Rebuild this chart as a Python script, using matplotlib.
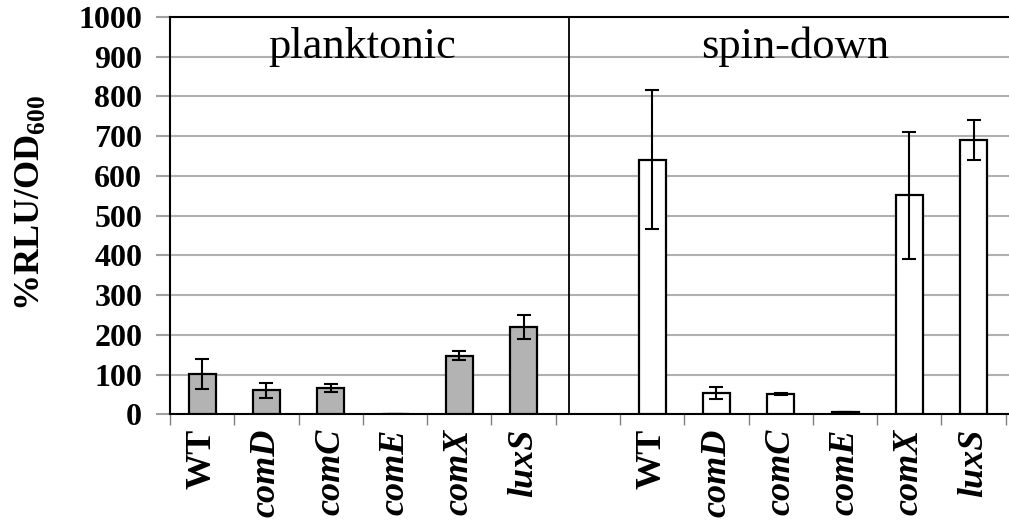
#! /usr/bin/env python

# Luminescence of reporter strains, planktonic vs spin-down cultures

import matplotlib
matplotlib.use('Agg')
import matplotlib.pyplot as plt
import numpy as np

# Data
strains = ['WT', 'comD', 'comC', 'comE', 'comX', 'luxS']

planktonic = [102, 61, 66, 0, 148, 220]
planktonic_err = [38, 19, 10, 0, 12, 30]

spin_down = [641, 53, 51, 6, 551, 690]
spin_down_err = [175, 15, 2, 0, 160, 51]

y_ticks = [0, 100, 200, 300, 400, 500, 600, 700, 800, 900, 1000]

# Fonts
plt.rcParams['font.family'] = ['Liberation Serif', 'DejaVu Serif']
plt.rcParams['mathtext.fontset'] = 'custom'
plt.rcParams['mathtext.rm'] = 'Liberation Serif'
plt.rcParams['mathtext.bf'] = 'Liberation Serif:bold'

fig = plt.figure(figsize=(10.09, 5.24), dpi=100)
ax = fig.add_axes([0.1685, 0.209, 0.8315, 0.759])

# positions: 6 planktonic slots, one empty slot, 6 spin-down slots
x_plank = np.arange(len(strains))
x_spin = np.arange(len(strains)) + len(strains) + 1
bar_w = 0.42

ax.bar(x_plank, planktonic, width=bar_w, color='#b3b3b3', edgecolor='black',
       linewidth=1.6, zorder=3)
ax.errorbar(x_plank, planktonic, yerr=planktonic_err, fmt='none', ecolor='black',
            elinewidth=1.5, capsize=5, capthick=1.5, zorder=4)

ax.bar(x_spin, spin_down, width=bar_w, color='white', edgecolor='black',
       linewidth=1.6, zorder=3)
ax.errorbar(x_spin, spin_down, yerr=spin_down_err, fmt='none', ecolor='black',
            elinewidth=1.5, capsize=5, capthick=1.5, zorder=4)

# divider between the two groups
ax.axvline(5.7, color='black', linewidth=1.3, zorder=2)

ax.set_xlim(-0.5, 12.55)
ax.set_ylim(0, 1000)

# gridlines
ax.set_yticks(y_ticks)
ax.yaxis.grid(True, color='#b0b0b0', linewidth=1.5, zorder=0)
ax.set_axisbelow(True)
ax.tick_params(axis='y', length=10, width=1.5, color='#a0a0a0', pad=10)
for lab in ax.get_yticklabels():
    lab.set_fontweight('bold')
    lab.set_fontsize(23)

# category labels at centres, tick marks at slot boundaries
centers = list(x_plank) + list(x_spin)
labels = strains + strains
ax.set_xticks(centers)
ax.set_xticklabels(labels, rotation=90, fontsize=26, fontweight='bold', va='top')
for lab in ax.get_xticklabels():
    if lab.get_text() != 'WT':
        lab.set_fontstyle('italic')
ax.tick_params(axis='x', which='major', length=0, pad=10)
ax.set_xticks(np.arange(-0.5, 13.0, 1.0), minor=True)
ax.tick_params(axis='x', which='minor', length=8, width=1, color='#808080')

for side in ['left', 'bottom', 'top']:
    ax.spines[side].set_linewidth(1.5)
    ax.spines[side].set_color('black')
ax.spines['right'].set_visible(False)

# panel titles
ax.text(2.49, 897, 'planktonic', ha='center', va='baseline', fontsize=32, zorder=5)
ax.text(9.22, 897, 'spin-down', ha='center', va='baseline', fontsize=32, zorder=5)

fig.text(30 / 1009, 1 - 203 / 524, r'%RLU/OD$_{\mathbf{600}}$', rotation=90,
         ha='center', va='center', fontsize=26, fontweight='bold')

plt.savefig('out.png', dpi=100)
